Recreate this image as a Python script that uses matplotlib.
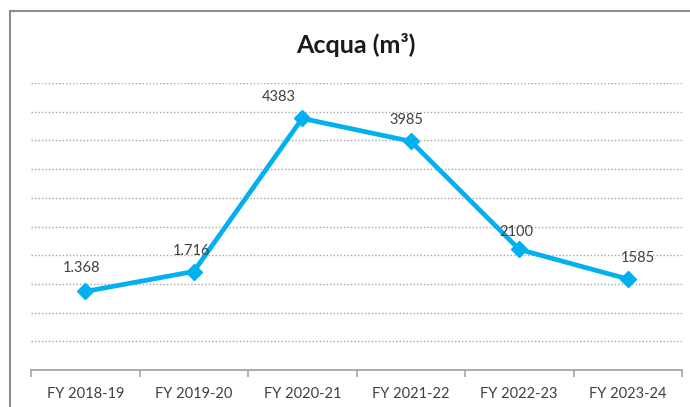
import matplotlib
matplotlib.use("Agg")
import matplotlib.pyplot as plt
from matplotlib.patches import Rectangle
import numpy as np

# data
years = ["FY 2018-19", "FY 2019-20", "FY 2020-21", "FY 2021-22", "FY 2022-23", "FY 2023-24"]
acqua = [1368, 1716, 4383, 3985, 2100, 1585]
labels = ["1.368", "1.716", "4383", "3985", "2100", "1585"]
# label offsets in pixels (dx, dy), as excel placed them
lab_off = [(-4, 23), (-2, 21), (-23, 21), (-4, 21), (-3, 17), (10, 21)]

plt.rcParams['font.family'] = ['Lato', 'DejaVu Sans']
blue = "#00B0F0"
grey = "#404040"

fig = plt.figure(figsize=(6.9, 4.07), dpi=100)
# outer chart border, cut off on the right and bottom like the screenshot
fig.patches.append(Rectangle((10/690, -0.2), 2, 0.2 + (407-11)/407,
                             transform=fig.transFigure, fill=False,
                             edgecolor="#8C8C8C", lw=1.5))
ax = fig.add_axes([31/690, 37/407, (682-31)/690, (324-37)/407])

x = np.arange(len(years))
ax.plot(x, acqua, color=blue, lw=3.4, marker="D", ms=8.5, mec=blue, mfc=blue, zorder=3)
for i, v in enumerate(acqua):
    ax.annotate(labels[i], (x[i], v), xytext=lab_off[i], textcoords="offset pixels",
                ha="center", va="center", fontsize=10.5, color=grey)

ax.set_xlim(-0.5, len(years) - 0.5)
ax.set_ylim(0, 5000)
ax.set_yticks(np.arange(500, 5001, 500))
ax.yaxis.grid(True, linestyle=(0, (1, 1.5)), color="#A6A6A6", lw=1)
ax.tick_params(axis="y", left=False, labelleft=False)
ax.set_xticks(x)
ax.set_xticklabels(years, fontsize=10.5, color=grey)
ax.set_xticks(np.arange(-0.5, len(years)), minor=True)
ax.tick_params(axis="x", which="major", length=0, pad=12)
ax.tick_params(axis="x", which="minor", length=5, color="#A6A6A6", width=1.2)
for s in ["top", "right", "left"]:
    ax.spines[s].set_visible(False)
ax.spines["bottom"].set_color("#A6A6A6")
ax.spines["bottom"].set_linewidth(1.3)
ax.set_axisbelow(True)

fig.text(356/690, 1 - 45/407, "Acqua (m³)", ha="center", va="center",
         fontsize=18, fontweight="bold", color="#1A1A1A")

fig.savefig("out.png", dpi=100)
